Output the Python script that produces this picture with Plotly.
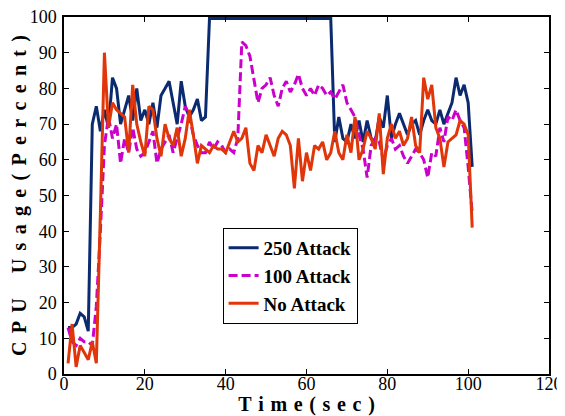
import plotly.graph_objects as go

time_sec = list(range(1, 102))

attack_250 = [13, 13, 14, 17, 16, 12, 70, 75, 68, 74, 69, 83, 80, 70, 74, 78, 71, 80, 71, 74,
              70, 76, 69, 78, 80, 82, 76, 70, 82, 75, 72, 74, 77, 71, 72,
              99.6, 99.6, 99.6, 99.6, 99.6, 99.6, 99.6, 99.6, 99.6, 99.6,
              99.6, 99.6, 99.6, 99.6, 99.6, 99.6, 99.6, 99.6, 99.6, 99.6,
              99.6, 99.6, 99.6, 99.6, 99.6, 99.6, 99.6, 99.6, 99.6, 99.6, 99.6,
              65, 72, 66, 65, 70, 66, 71, 65, 71, 66, 65, 72, 69, 78, 66, 70, 73, 70, 67,
              70, 71, 67, 71, 74, 71, 70, 74, 70, 73, 76, 83, 78, 81, 76, 58]

attack_100 = [13, 9, 8, 10, 9, 9, 8, 19, 40, 64, 72, 66, 70, 59, 66, 62, 69, 63, 61, 62,
              65, 68, 59, 63, 65, 67, 62, 66, 70, 75, 72, 67, 64, 62, 62, 65, 63, 65, 64, 62,
              63, 62, 66, 93, 92, 89, 83, 76, 80, 81, 83, 78, 75, 80, 82, 79, 81, 84, 80, 78,
              80, 78, 81, 80, 78, 79, 77, 79, 81, 76, 74, 72, 67, 63, 55, 64, 66, 65, 60, 64,
              66, 63, 64, 61, 59, 61, 63, 62, 60, 55, 62, 61, 69, 65, 72, 71, 74, 71, 69, 58, 45]

no_attack = [3, 14, 2, 8, 6, 4, 9, 3, 45, 90, 69, 76, 74, 73, 72, 62, 81, 70, 65, 61,
             75, 74, 66, 61, 70, 66, 64, 69, 61, 66, 74, 67, 59, 64, 63, 62, 64, 63, 63, 62,
             65, 68, 65, 66, 69, 59, 57, 64, 62, 67, 64, 61, 66, 68, 67, 64, 52, 66, 54, 62,
             57, 64, 63, 65, 60, 62, 68, 62, 60, 67, 62, 72, 60, 63, 68, 66, 63, 73, 56, 66,
             70, 66, 68, 64, 66, 72, 64, 62, 83, 77, 81, 69, 66, 58, 65, 66, 67, 71, 70, 67, 41]

series_names = ["250 Attack", "100 Attack", "No Attack"]
x_ticks = [0, 20, 40, 60, 80, 100, 120]
y_ticks = [0, 10, 20, 30, 40, 50, 60, 70, 80, 90, 100]

serif = "Liberation Serif, Times New Roman, serif"

fig = go.Figure()
fig.add_trace(go.Scatter(x=time_sec, y=attack_250, mode="lines", name=series_names[0],
                         line=dict(color="#0b2a6f", width=3)))
fig.add_trace(go.Scatter(x=time_sec, y=attack_100, mode="lines", name=series_names[1],
                         line=dict(color="#cc00cc", width=3, dash="9px,4px")))
fig.add_trace(go.Scatter(x=time_sec, y=no_attack, mode="lines", name=series_names[2],
                         line=dict(color="#e0360a", width=3)))

sp = "\u2004"
gap_y = "\u2005\u2006"
x_title = sp.join(list("Time(sec)"))
y_title = gap_y.join(list("CPU")) + gap_y * 3 + gap_y.join(list("Usage(Percent)"))

axis_common = dict(showline=True, linecolor="black", linewidth=1.5, mirror="ticks",
                   ticks="inside", ticklen=5, tickwidth=1, tickcolor="black",
                   showgrid=False, zeroline=False, automargin=False,
                   ticklabeloverflow="allow",
                   tickfont=dict(family=serif, size=18, color="black"))

fig.update_xaxes(range=[0, 120], tickvals=x_ticks, ticklabelstandoff=-7,
                 title=dict(text=x_title, font=dict(family=serif, size=20, color="black", weight="bold"),
                            standoff=5),
                 **axis_common)
fig.update_yaxes(range=[0, 100], tickvals=y_ticks, ticklabelstandoff=2,
                 title=dict(text=y_title, font=dict(family=serif, size=20, color="black", weight="bold"),
                            standoff=5),
                 **axis_common)

# page body has an 8px margin, so the figure is drawn 8px in from the window edge
fig.update_layout(
    width=557, height=408,
    margin=dict(l=56, r=16, t=9, b=42),
    plot_bgcolor="white", paper_bgcolor="white",
    showlegend=True,
    legend=dict(x=0.327, y=0.2745, xanchor="left", yanchor="middle",
                bgcolor="white", bordercolor="black", borderwidth=1,
                font=dict(family=serif, size=19, color="black", weight="bold"),
                itemwidth=30, tracegroupgap=0),
)

fig.write_html("out.html")
